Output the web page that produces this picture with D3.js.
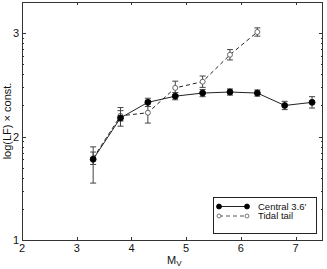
<!DOCTYPE html>
<html>
<head>
<meta charset="utf-8">
<script src="https://cdn.jsdelivr.net/npm/d3@7"></script>
<style>
  body { margin: 0; background: #fff; }
  svg text { font-family: "Liberation Sans", Arial, sans-serif; fill: #111; }
</style>
</head>
<body>
<div id="chart"></div>
<script>
const W = 327, H = 269;
const margin = { top: 2, right: 4, bottom: 29, left: 22 };

// data (y = log LF)
const mvCentral = [3.3, 3.8, 4.3, 4.8, 5.3, 5.8, 6.3, 6.8, 7.3];
const central   = [1.78, 2.18, 2.33, 2.39, 2.42, 2.43, 2.42, 2.30, 2.33];
const centralHi = [0.12, 0.10, 0.04, 0.035, 0.035, 0.03, 0.03, 0.04, 0.055];
const centralLo = [0.23, 0.08, 0.04, 0.035, 0.035, 0.03, 0.03, 0.04, 0.055];

const mvTidal = [3.3, 3.8, 4.3, 4.8, 5.3, 5.8, 6.3];
const tidal   = [1.79, 2.20, 2.23, 2.47, 2.53, 2.79, 3.01];
const tidalHi = [0.06, 0.05, 0.12, 0.065, 0.055, 0.05, 0.04];
const tidalLo = [0.06, 0.05, 0.10, 0.065, 0.055, 0.05, 0.04];

const xTicks = [2, 3, 4, 5, 6, 7];
const yTicks = [1, 2, 3];
const legendLabels = ["Central 3.6\u2032", "Tidal tail"];

const svg = d3.select("#chart").append("svg")
    .attr("width", W)
    .attr("height", H);

const x = d3.scaleLinear().domain([2, 7.5]).range([margin.left, W - margin.right]);
const y = d3.scaleLinear().domain([1, 3.3]).range([H - margin.bottom, margin.top]);

// minor ticks of a log axis, in log units
const yMinor = [];
[1, 2, 3].forEach(function(n) {
    d3.range(2, 10).forEach(function(k) {
        const v = n + Math.log10(k);
        if (v < 3.3) yMinor.push(v);
    });
});

const axisColor = "#333";
const x0 = x.range()[0], x1 = x.range()[1];
const y0 = y.range()[0], y1 = y.range()[1];

// box
svg.append("rect")
    .attr("x", x0 + 0.5).attr("y", y1 + 0.5)
    .attr("width", x1 - x0 - 1).attr("height", y0 - y1)
    .attr("fill", "none").attr("stroke", axisColor).attr("stroke-width", 1);

// inward ticks on all four sides
const tk = svg.append("g").attr("stroke", axisColor).attr("stroke-width", 1);
xTicks.forEach(function(t) {
    const px = Math.round(x(t)) + 0.5;
    tk.append("line").attr("x1", px).attr("x2", px).attr("y1", y0).attr("y2", y0 - 3);
    tk.append("line").attr("x1", px).attr("x2", px).attr("y1", y1).attr("y2", y1 + 3);
});
yTicks.forEach(function(t) {
    const py = Math.round(y(t)) + 0.5;
    tk.append("line").attr("x1", x0).attr("x2", x0 + 4).attr("y1", py).attr("y2", py);
    tk.append("line").attr("x1", x1).attr("x2", x1 - 4).attr("y1", py).attr("y2", py);
});
yMinor.forEach(function(t) {
    const py = Math.round(y(t)) + 0.5;
    tk.append("line").attr("x1", x0).attr("x2", x0 + 2).attr("y1", py).attr("y2", py);
    tk.append("line").attr("x1", x1).attr("x2", x1 - 2).attr("y1", py).attr("y2", py);
});

// tick labels
svg.append("g").selectAll("text").data(xTicks).enter().append("text")
    .attr("x", function(d) { return x(d); })
    .attr("y", y0 + 12)
    .attr("text-anchor", "middle")
    .attr("font-size", 11)
    .text(function(d) { return d; });

svg.append("g").selectAll("text").data(yTicks).enter().append("text")
    .attr("x", x0 - 3)
    .attr("y", function(d) { return y(d) + 4; })
    .attr("text-anchor", "end")
    .attr("font-size", 11)
    .text(function(d) { return d; });

// axis titles
const xl = svg.append("text")
    .attr("x", 167).attr("y", 264)
    .attr("font-size", 11);
xl.append("tspan").text("M");
xl.append("tspan").attr("font-size", 8).attr("dy", 2).text("V");

svg.append("text")
    .attr("transform", "translate(11," + ((y0 + y1) / 2) + ") rotate(-90)")
    .attr("text-anchor", "middle")
    .attr("font-size", 11)
    .text("log(LF) \u00d7 const.");

// series
function drawSeries(mv, val, hi, lo, dashed, filled) {
    const pts = mv.map(function(m, i) { return { m: m, v: val[i], hi: hi[i], lo: lo[i] }; });
    const g = svg.append("g");

    g.selectAll("line.err").data(pts).enter().append("line")
        .attr("x1", function(d) { return x(d.m); })
        .attr("x2", function(d) { return x(d.m); })
        .attr("y1", function(d) { return y(d.v + d.hi); })
        .attr("y2", function(d) { return y(d.v - d.lo); })
        .attr("stroke", "#444").attr("stroke-width", 1);
    [["hi", 1], ["lo", -1]].forEach(function(c) {
        g.selectAll("line.cap" + c[0]).data(pts).enter().append("line")
            .attr("x1", function(d) { return x(d.m) - 3; })
            .attr("x2", function(d) { return x(d.m) + 3; })
            .attr("y1", function(d) { return y(d.v + c[1] * d[c[0]]); })
            .attr("y2", function(d) { return y(d.v + c[1] * d[c[0]]); })
            .attr("stroke", "#444").attr("stroke-width", 1);
    });

    const line = d3.line().x(function(d) { return x(d.m); }).y(function(d) { return y(d.v); });
    g.append("path").datum(pts)
        .attr("d", line)
        .attr("fill", "none")
        .attr("stroke", "#222")
        .attr("stroke-width", 1)
        .attr("stroke-dasharray", dashed ? "4,3" : null);

    g.selectAll("circle").data(pts).enter().append("circle")
        .attr("cx", function(d) { return x(d.m); })
        .attr("cy", function(d) { return y(d.v); })
        .attr("r", filled ? 3 : 2.5)
        .attr("fill", filled ? "#000" : "#fff")
        .attr("stroke", filled ? "#000" : "#444")
        .attr("stroke-width", 0.8);
}

drawSeries(mvTidal, tidal, tidalHi, tidalLo, true, false);
drawSeries(mvCentral, central, centralHi, centralLo, false, true);

// legend
const lg = svg.append("g");
lg.append("rect")
    .attr("x", 213.5).attr("y", 197.5).attr("width", 103).attr("height", 36)
    .attr("fill", "#fff").attr("stroke", "#222").attr("stroke-width", 1);
[0, 1].forEach(function(i) {
    const ly = 206.5 + i * 9.5;
    lg.append("line")
        .attr("x1", 219).attr("x2", 247).attr("y1", ly).attr("y2", ly)
        .attr("stroke", i ? "#555" : "#222")
        .attr("stroke-dasharray", i ? "4,3" : null);
    [219, 247].forEach(function(cx) {
        lg.append("circle").attr("cx", cx).attr("cy", ly).attr("r", i ? 2 : 2.5)
            .attr("fill", i ? "#fff" : "#000").attr("stroke", i ? "#555" : "#000").attr("stroke-width", 0.8);
    });
    lg.append("text").attr("x", 258).attr("y", ly + 3.2).attr("font-size", 9.5)
        .text(legendLabels[i]);
});
</script>
</body>
</html>
